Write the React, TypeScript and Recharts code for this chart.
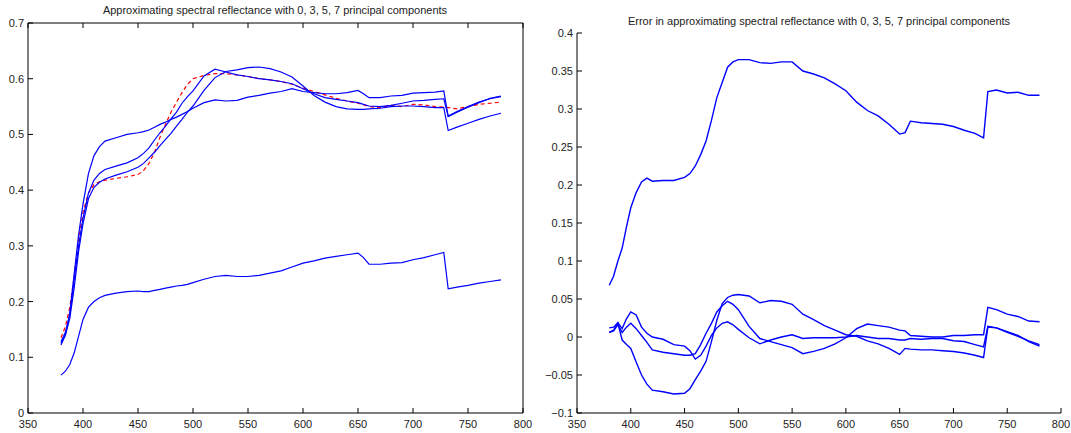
import React from 'react';
import { LineChart, Line, XAxis, YAxis } from 'recharts';

// wavelengths (nm) shared by all series
const wavelengths = [
  380, 384, 388, 392, 396, 400, 405, 410, 415, 420, 430, 440, 450, 455, 460, 465, 470, 475, 480, 485,
  490, 495, 500, 510, 520, 530, 540, 550, 560, 570, 580, 590, 600, 610, 620, 630, 640, 650, 655, 660,
  670, 680, 690, 700, 710, 720, 728, 732, 740, 750, 760, 770, 780,
];

// measured reflectance (red dashed)
const original = [
  0.135, 0.155, 0.19, 0.245, 0.31, 0.36, 0.395, 0.41, 0.415, 0.418, 0.421, 0.424, 0.428, 0.435, 0.448, 0.468, 0.495, 0.518, 0.54, 0.558,
  0.575, 0.59, 0.6, 0.606, 0.609, 0.609, 0.607, 0.604, 0.6, 0.598, 0.595, 0.59, 0.583, 0.577, 0.571, 0.565, 0.56, 0.556, 0.553, 0.55,
  0.548, 0.552, 0.55, 0.554, 0.553, 0.55, 0.549, 0.548, 0.546, 0.55, 0.554, 0.556, 0.558,
];

// approximations
const approx0 = [
  0.068, 0.075, 0.087, 0.108, 0.138, 0.168, 0.19, 0.2, 0.207, 0.211, 0.215, 0.218, 0.219, 0.218, 0.218, 0.22, 0.222, 0.224, 0.226, 0.228,
  0.229, 0.231, 0.234, 0.24, 0.245, 0.247, 0.245, 0.245, 0.247, 0.251, 0.255, 0.262, 0.269, 0.273, 0.278, 0.281, 0.284, 0.287, 0.279, 0.267,
  0.267, 0.269, 0.27, 0.275, 0.279, 0.284, 0.288, 0.223, 0.226, 0.229, 0.233, 0.236, 0.239,
];
const approx3 = [
  0.125, 0.14, 0.18, 0.25, 0.32, 0.375, 0.43, 0.462, 0.478, 0.488, 0.494, 0.5, 0.503, 0.505, 0.508, 0.513, 0.518, 0.522, 0.527, 0.531,
  0.536, 0.541, 0.547, 0.557, 0.562, 0.56, 0.561, 0.567, 0.57, 0.574, 0.577, 0.582, 0.577, 0.575, 0.573, 0.573, 0.575, 0.579, 0.573, 0.566,
  0.566, 0.569, 0.57, 0.574, 0.575, 0.576, 0.578, 0.532, 0.54, 0.549, 0.557, 0.565, 0.569,
];
const approx5 = [
  0.128, 0.145, 0.175, 0.24, 0.3, 0.35, 0.395, 0.418, 0.43, 0.437, 0.443, 0.449, 0.458, 0.466, 0.476, 0.49, 0.503, 0.515, 0.528, 0.54,
  0.556, 0.568, 0.578, 0.605, 0.617, 0.612, 0.607, 0.604, 0.6, 0.598, 0.595, 0.591, 0.582, 0.573, 0.566, 0.563, 0.56, 0.557, 0.554, 0.551,
  0.55, 0.552, 0.556, 0.56, 0.561, 0.563, 0.564, 0.533, 0.541, 0.55, 0.558, 0.564, 0.568,
];
const approx7 = [
  0.122, 0.14, 0.17, 0.225, 0.29, 0.34, 0.385, 0.405, 0.414, 0.42, 0.427, 0.433, 0.441, 0.448, 0.458, 0.468, 0.48, 0.491, 0.502, 0.515,
  0.527, 0.54, 0.551, 0.579, 0.602, 0.613, 0.616, 0.62, 0.621, 0.618, 0.612, 0.603, 0.587, 0.57, 0.558, 0.55, 0.546, 0.545, 0.545, 0.546,
  0.547, 0.55, 0.551, 0.551, 0.55, 0.548, 0.548, 0.507, 0.513, 0.52, 0.527, 0.533, 0.538,
];

// errors (right panel)
const error0 = [
  0.068, 0.08, 0.1, 0.117, 0.145, 0.17, 0.19, 0.204, 0.209, 0.205, 0.206, 0.206, 0.21, 0.215, 0.225, 0.24, 0.258, 0.285, 0.315, 0.335,
  0.355, 0.362, 0.365, 0.365, 0.361, 0.36, 0.362, 0.362, 0.35, 0.346, 0.341, 0.333, 0.324, 0.309, 0.298, 0.291, 0.28, 0.267, 0.269, 0.284,
  0.282, 0.281, 0.28, 0.277, 0.272, 0.268, 0.262, 0.323, 0.325, 0.321, 0.322, 0.318, 0.318,
];
const error3 = [
  0.006, 0.009, 0.018, -0.004, -0.01, -0.015, -0.033, -0.05, -0.062, -0.07, -0.072, -0.075, -0.074, -0.068, -0.056, -0.045, -0.032, -0.006, 0.022, 0.044,
  0.052, 0.055, 0.056, 0.054, 0.045, 0.048, 0.047, 0.043, 0.03, 0.023, 0.015, 0.009, 0.003, 0.001, -0.005, -0.009, -0.015, -0.023, -0.015, -0.016,
  -0.017, -0.017, -0.018, -0.019, -0.021, -0.024, -0.027, 0.013, 0.012, 0.007, 0.002, -0.006, -0.012,
];
const error5 = [
  0.012, 0.013, 0.019, 0.011, 0.024, 0.033, 0.029, 0.013, 0.005, 0.0, -0.003, -0.01, -0.012, -0.018, -0.029, -0.024, -0.012, 0.002, 0.012, 0.018,
  0.02, 0.016, 0.01, -0.001, -0.009, -0.004, 0.0, 0.003, -0.002, -0.001, -0.001, -0.001, 0.0, 0.002, 0.0, -0.002, -0.002, -0.004, -0.004, -0.002,
  -0.003, -0.002, -0.002, -0.005, -0.006, -0.01, -0.013, 0.014, 0.012, 0.006, 0.001, -0.005, -0.01,
];
const error7 = [
  0.006, 0.008, 0.016, 0.006, 0.013, 0.018, 0.011, 0.002, -0.007, -0.017, -0.02, -0.022, -0.024, -0.024, -0.022, -0.01, 0.005, 0.018, 0.033, 0.041,
  0.047, 0.043, 0.036, 0.014, -0.002, -0.006, -0.01, -0.014, -0.022, -0.019, -0.015, -0.009, -0.001, 0.011, 0.017, 0.015, 0.013, 0.009, 0.008, 0.002,
  0.001, 0.0, 0.0, 0.002, 0.002, 0.003, 0.003, 0.039, 0.036, 0.03, 0.027, 0.021, 0.02,
];

const xTicks = [350, 400, 450, 500, 550, 600, 650, 700, 750, 800];
const leftYTicks = [0, 0.1, 0.2, 0.3, 0.4, 0.5, 0.6, 0.7];
const rightYTicks = [-0.1, -0.05, 0, 0.05, 0.1, 0.15, 0.2, 0.25, 0.3, 0.35, 0.4];

const leftTitle = 'Approximating spectral reflectance with 0, 3, 5, 7 principal components';
const rightTitle = 'Error in approximating spectral reflectance with 0, 3, 5, 7 principal components';

const leftData = wavelengths.map((w, i) => ({
  w,
  original: original[i],
  a0: approx0[i],
  a3: approx3[i],
  a5: approx5[i],
  a7: approx7[i],
}));

const rightData = wavelengths.map((w, i) => ({
  w,
  e0: error0[i],
  e3: error3[i],
  e5: error5[i],
  e7: error7[i],
}));

const FONT = '"Liberation Sans", Arial, Helvetica, sans-serif';
const TICK = 5;
const fmt = (v: number) => (v < 0 ? '\u2212' + String(-v) : String(v));

const BottomTick = ({ x, y, payload }: any) => (
  <g>
    <line x1={x} x2={x} y1={y} y2={y - TICK} stroke="#000" />
    <text x={x} y={y + 11} textAnchor="middle" dominantBaseline="central" fontSize={11} fill="#222" fontFamily={FONT}>
      {payload.value}
    </text>
  </g>
);

const TopTick = ({ x, y }: any) => <line x1={x} x2={x} y1={y} y2={y + TICK} stroke="#000" />;

const LeftTick = ({ x, y, payload }: any) => (
  <g>
    <line x1={x} x2={x + TICK} y1={y} y2={y} stroke="#000" />
    <text x={x - 4} y={y} textAnchor="end" dominantBaseline="central" fontSize={11} fill="#222" fontFamily={FONT}>
      {fmt(payload.value)}
    </text>
  </g>
);

const RightTick = ({ x, y }: any) => <line x1={x} x2={x - TICK} y1={y} y2={y} stroke="#000" />;

const titleStyle = (left: number, top: number): React.CSSProperties => ({
  position: 'absolute',
  left,
  top,
  transform: 'translateX(-50%)',
  whiteSpace: 'nowrap',
  fontFamily: FONT,
  fontSize: 11,
  color: '#222',
  lineHeight: '12px',
});

export default function App() {
  return (
    <div style={{ position: 'absolute', left: 0, top: 0, width: 1071, height: 433, background: '#fff' }}>
      <div style={titleStyle(275, 4)}>{leftTitle}</div>
      <div style={titleStyle(819, 15)}>{rightTitle}</div>

      <div style={{ position: 'absolute', left: 0, top: 0 }}>
        <LineChart width={540} height={433} data={leftData} margin={{ top: 22, left: 27, right: 16, bottom: 19 }}>
          <XAxis
            dataKey="w"
            type="number"
            domain={[350, 800]}
            ticks={xTicks}
            interval={0}
            height={1}
            tickSize={0}
            tickMargin={0}
            stroke="#000"
            tick={<BottomTick />}
          />
          <XAxis
            xAxisId="top"
            orientation="top"
            dataKey="w"
            type="number"
            domain={[350, 800]}
            ticks={xTicks}
            interval={0}
            height={1}
            tickSize={0}
            tickMargin={0}
            stroke="#000"
            tick={<TopTick />}
          />
          <YAxis
            type="number"
            domain={[0, 0.7]}
            ticks={leftYTicks}
            interval={0}
            width={1}
            tickSize={0}
            tickMargin={0}
            stroke="#000"
            tick={<LeftTick />}
          />
          <YAxis
            yAxisId="right"
            orientation="right"
            type="number"
            domain={[0, 0.7]}
            ticks={leftYTicks}
            interval={0}
            width={1}
            tickSize={0}
            tickMargin={0}
            stroke="#000"
            tick={<RightTick />}
          />
          <Line dataKey="original" stroke="#ff0000" strokeWidth={1.2} strokeDasharray="4 3" dot={false} isAnimationActive={false} />
          <Line dataKey="a0" stroke="#0000ff" strokeWidth={1.2} dot={false} isAnimationActive={false} />
          <Line dataKey="a3" stroke="#0000ff" strokeWidth={1.2} dot={false} isAnimationActive={false} />
          <Line dataKey="a5" stroke="#0000ff" strokeWidth={1.2} dot={false} isAnimationActive={false} />
          <Line dataKey="a7" stroke="#0000ff" strokeWidth={1.2} dot={false} isAnimationActive={false} />
        </LineChart>
      </div>

      <div style={{ position: 'absolute', left: 540, top: 0 }}>
        <LineChart width={531} height={433} data={rightData} margin={{ top: 33, left: 36, right: 10, bottom: 19 }}>
          <XAxis
            dataKey="w"
            type="number"
            domain={[350, 800]}
            ticks={xTicks}
            interval={0}
            height={1}
            tickSize={0}
            tickMargin={0}
            stroke="#000"
            tick={<BottomTick />}
          />
          <YAxis
            type="number"
            domain={[-0.1, 0.4]}
            ticks={rightYTicks}
            interval={0}
            width={1}
            tickSize={0}
            tickMargin={0}
            stroke="#000"
            tick={<LeftTick />}
          />
          <Line dataKey="e0" stroke="#0000ff" strokeWidth={1.4} dot={false} isAnimationActive={false} />
          <Line dataKey="e3" stroke="#0000ff" strokeWidth={1.4} dot={false} isAnimationActive={false} />
          <Line dataKey="e5" stroke="#0000ff" strokeWidth={1.4} dot={false} isAnimationActive={false} />
          <Line dataKey="e7" stroke="#0000ff" strokeWidth={1.4} dot={false} isAnimationActive={false} />
        </LineChart>
      </div>
    </div>
  );
}
